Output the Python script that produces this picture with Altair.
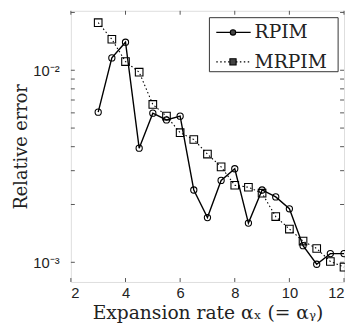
import altair as alt
import pandas as pd

# ---- data ----
x_vals = [3, 3.5, 4, 4.5, 5, 5.5, 6, 6.5, 7, 7.5, 8, 8.5, 9, 9.5, 10, 10.5, 11, 11.5, 12]
rpim = [0.00605, 0.0116, 0.0140, 0.00393, 0.00598, 0.00551, 0.00577, 0.00238, 0.00171,
        0.00267, 0.00307, 0.00160, 0.00238, 0.00219, 0.00190, 0.00122, 0.000977, 0.00111, 0.00111]
mrpim = [0.0177, 0.0145, 0.0111, 0.00977, 0.00664, 0.00577, 0.00473, 0.00436, 0.00366,
         0.00314, 0.00252, 0.00246, 0.00229, 0.00173, 0.00149, 0.00129, 0.00118, 0.00101, 0.000944]
series_names = ["RPIM", "MRPIM"]
x_ticks = [2, 4, 6, 8, 10, 12]
y_ticks = [0.001, 0.002, 0.003, 0.004, 0.005, 0.006, 0.007, 0.008, 0.009, 0.01, 0.02]
x_title = "Expansion rate αₓ (= αᵧ)"
y_title = "Relative error"

df = pd.DataFrame({
    "x": x_vals + x_vals,
    "err": rpim + mrpim,
    "series": [series_names[0]] * len(x_vals) + [series_names[1]] * len(x_vals),
})
xt_df = pd.DataFrame({"v": x_ticks})
yt_df = pd.DataFrame({"v": y_ticks})

W, H = 278, 276
SERIF = "DejaVu Serif"
SANS = "Liberation Sans"
TXT = "#222222"
TICK = "#555555"

xscale = alt.Scale(domain=[2, 12], nice=False, zero=False)
yscale = alt.Scale(type="log", domain=[0.00079, 0.0204], nice=False)

label_expr = ("abs(datum.value - 0.01) < 1e-9 ? '10⁻²' : "
              "(abs(datum.value - 0.001) < 1e-10 ? '10⁻³' : '')")

x_axis_main = alt.Axis(orient="bottom", values=x_ticks, ticks=False, domain=False, grid=False,
                       labelPadding=4, labelFont=SANS, labelFontSize=15, labelColor=TXT,
                       title=x_title, titleFont=SERIF, titleFontSize=19, titleFontWeight="normal",
                       titleColor=TXT, titleY=37, titleBaseline="alphabetic")
y_axis_main = alt.Axis(orient="left", values=y_ticks, ticks=False, domain=False, grid=False,
                       labelExpr=label_expr, labelPadding=12, labelFont=SANS, labelFontSize=15,
                       labelColor=TXT, labelBaseline="middle",
                       title=y_title, titleFont=SERIF, titleFontSize=18, titleFontWeight="normal",
                       titleColor=TXT, titleX=-50, titleAngle=270, titleBaseline="middle",
                       titleAlign="center")

rp = df[df["series"] == series_names[0]]
mr = df[df["series"] == series_names[1]]

# main layer carrying the labelled axes
rp_line = alt.Chart(rp).mark_line(color="black", strokeWidth=1.4).encode(
    x=alt.X("x:Q", scale=xscale, axis=x_axis_main),
    y=alt.Y("err:Q", scale=yscale, axis=y_axis_main),
)
rp_pts = alt.Chart(rp).mark_point(shape="circle", size=40, filled=False, color="black",
                                  strokeWidth=1.1, opacity=1).encode(
    x=alt.X("x:Q", scale=xscale, axis=None),
    y=alt.Y("err:Q", scale=yscale, axis=None),
)
mr_line = alt.Chart(mr).mark_line(color="black", strokeWidth=1.1, strokeDash=[1.5, 2.5]).encode(
    x=alt.X("x:Q", scale=xscale, axis=None),
    y=alt.Y("err:Q", scale=yscale, axis=None),
)
mr_pts = alt.Chart(mr).mark_point(shape="square", size=60, filled=False, color="black",
                                  strokeWidth=1.1, opacity=1).encode(
    x=alt.X("x:Q", scale=xscale, axis=None),
    y=alt.Y("err:Q", scale=yscale, axis=None),
)

# inward tick marks on all four sides (positions from the shared scales)
tick_layers = [
    alt.Chart(xt_df).mark_rule(color=TICK, strokeWidth=1).encode(
        x=alt.X("v:Q", scale=xscale, axis=None), y=alt.value(H), y2=alt.value(H - 4)),
    alt.Chart(xt_df).mark_rule(color=TICK, strokeWidth=1).encode(
        x=alt.X("v:Q", scale=xscale, axis=None), y=alt.value(0), y2=alt.value(4)),
    alt.Chart(yt_df).mark_rule(color=TICK, strokeWidth=1).encode(
        y=alt.Y("v:Q", scale=yscale, axis=None), x=alt.value(0), x2=alt.value(4)),
    alt.Chart(yt_df).mark_rule(color=TICK, strokeWidth=1).encode(
        y=alt.Y("v:Q", scale=yscale, axis=None), x=alt.value(W - 4), x2=alt.value(W)),
]

# legend box
leg_df = pd.DataFrame({"name": series_names})
leg_box = alt.Chart(leg_df.head(1)).mark_rect(fill="white", stroke="#333333", strokeWidth=1).encode(
    x=alt.value(141), x2=alt.value(272), y=alt.value(7), y2=alt.value(62))
leg_layers = [leg_box]
for i, (yy, dash, shape, size) in enumerate([(22, [1, 0], "circle", 30), (52, [1.5, 2.5], "square", 40)]):
    one = leg_df.iloc[[i]]
    leg_layers.append(alt.Chart(one).mark_rule(color="black", strokeWidth=1.4 if i == 0 else 1.1,
                                               strokeDash=dash).encode(
        x=alt.value(148), x2=alt.value(183), y=alt.value(yy)))
    leg_layers.append(alt.Chart(one).mark_point(shape=shape, size=size, filled=True, color="#444444",
                                                stroke="black", strokeWidth=1.1, opacity=1).encode(
        x=alt.value(165), y=alt.value(yy)))
    leg_layers.append(alt.Chart(one).mark_text(align="left", baseline="middle", font=SERIF,
                                               fontSize=19, color=TXT).encode(
        x=alt.value(187), y=alt.value(yy), text="name:N"))

chart = alt.layer(rp_line, mr_line, rp_pts, mr_pts, *tick_layers, *leg_layers).resolve_axis(
    x="independent", y="independent"
).properties(
    width=W, height=H,
    autosize=alt.AutoSizeParams(type="none"),
    padding={"left": 64, "top": 0, "right": 1, "bottom": 44},
).configure_view(stroke="#808080", strokeWidth=1.2).configure(background="white")

chart.save("out.html", embed_options={"renderer": "svg", "actions": False})
